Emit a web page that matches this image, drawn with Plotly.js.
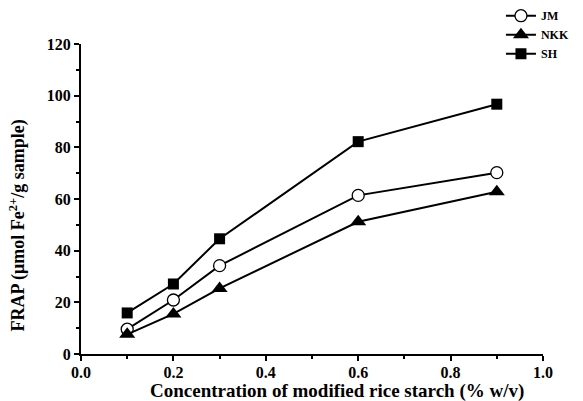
<!DOCTYPE html>
<html>
<head>
<meta charset="utf-8">
<script src="https://cdn.plot.ly/plotly-3.0.1.min.js"></script>
<style>html,body{margin:0;padding:0;background:#fff;}#chart{width:583px;height:401px;}</style>
</head>
<body>
<div id="chart"></div>
<script>
const concentration = [0.1, 0.2, 0.3, 0.6, 0.9];
const seriesNames = ["JM", "NKK", "SH"];
const jmValues = [9.6, 20.9, 34.2, 61.4, 70.2];
const nkkValues = [7.6, 15.5, 25.4, 51.2, 62.8];
const shValues = [15.9, 27.1, 44.6, 82.2, 96.7];
const xTickVals = [0, 0.2, 0.4, 0.6, 0.8, 1.0];
const xTickText = ["0.0", "0.2", "0.4", "0.6", "0.8", "1.0"];
const yTickVals = [0, 20, 40, 60, 80, 100, 120];

const FONT = "Liberation Serif, Times New Roman, serif";

function trace(name, y, marker) {
  return {
    x: concentration, y: y, name: name, type: "scatter", mode: "lines+markers",
    line: {color: "#000", width: 2},
    marker: marker
  };
}

const data = [
  trace(seriesNames[0], jmValues, {symbol: "circle", size: 12, color: "#fff", line: {color: "#000", width: 1.3}}),
  trace(seriesNames[1], nkkValues, {symbol: "triangle-up", size: 14, color: "#000", line: {color: "#000", width: 0}}),
  trace(seriesNames[2], shValues, {symbol: "square", size: 11, color: "#000", line: {color: "#000", width: 0}})
];

const layout = {
  width: 583, height: 401,
  margin: {l: 81, r: 40, t: 44, b: 47, autoexpand: false},
  paper_bgcolor: "#fff", plot_bgcolor: "#fff",
  font: {family: FONT, color: "#000"},
  showlegend: true,
  legend: {
    x: 0.909, y: 1.138, xanchor: "left", yanchor: "top",
    font: {family: FONT, size: 12, color: "#000", weight: "bold"},
    bgcolor: "rgba(0,0,0,0)", tracegroupgap: 0, itemwidth: 30
  },
  xaxis: {
    range: [0, 1], tickvals: xTickVals, ticktext: xTickText,
    showgrid: false, zeroline: false, showline: true, linecolor: "#000", linewidth: 2,
    ticks: "outside", ticklen: 5, tickwidth: 2, tickcolor: "#000", ticklabelstandoff: -2,
    tickfont: {family: FONT, size: 16, color: "#000", weight: "bold"},
    minor: {dtick: 0.1, tick0: 0, ticks: "outside", ticklen: 3, tickwidth: 2, tickcolor: "#000"},
    fixedrange: true
  },
  yaxis: {
    range: [0, 120], tickvals: yTickVals,
    showgrid: false, zeroline: false, showline: true, linecolor: "#000", linewidth: 2,
    ticks: "outside", ticklen: 5, tickwidth: 2, tickcolor: "#000",
    tickfont: {family: FONT, size: 16, color: "#000", weight: "bold"},
    minor: {dtick: 10, tick0: 0, ticks: "outside", ticklen: 3, tickwidth: 2, tickcolor: "#000"},
    fixedrange: true
  },
  annotations: [
    {text: "Concentration of modified rice starch (% w/v)", xref: "paper", yref: "paper",
     x: 0.555, y: -0.12, xanchor: "center", yanchor: "middle", showarrow: false,
     font: {family: FONT, size: 19, color: "#000", weight: "bold"}},
    {text: "FRAP (μmol Fe<sup>2+</sup>/g sample)", xref: "paper", yref: "paper",
     x: -0.136, y: 0.415, xanchor: "center", yanchor: "middle", showarrow: false, textangle: -90,
     font: {family: FONT, size: 18, color: "#000", weight: "bold"}}
  ]
};

Plotly.newPlot("chart", data, layout, {displayModeBar: false, staticPlot: true});
</script>
</body>
</html>
